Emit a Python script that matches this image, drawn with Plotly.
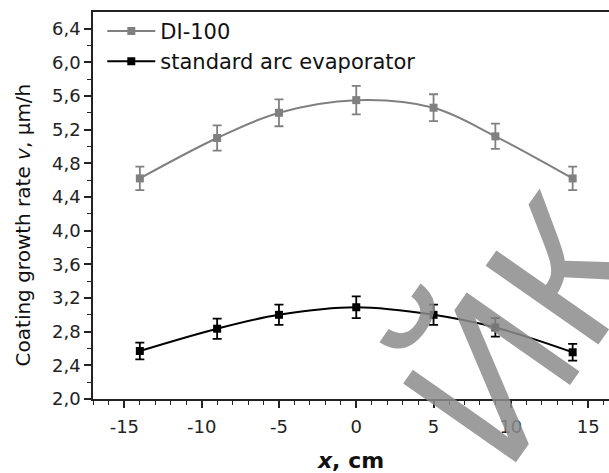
import plotly.graph_objects as go

x_pos = [-14, -9, -5, 0, 5, 9, 14]
di100 = [4.62, 5.10, 5.40, 5.55, 5.46, 5.12, 4.62]
di100_err = [0.14, 0.15, 0.16, 0.17, 0.16, 0.15, 0.14]
std_arc = [2.57, 2.835, 3.00, 3.09, 3.00, 2.85, 2.555]
std_err = [0.10, 0.12, 0.12, 0.13, 0.12, 0.11, 0.10]

x_ticks = [-15, -10, -5, 0, 5, 10, 15]
y_ticks = [2.0, 2.4, 2.8, 3.2, 3.6, 4.0, 4.4, 4.8, 5.2, 5.6, 6.0, 6.4]

GRAY = "#808080"
BLACK = "#000000"
FONT = "DejaVu Sans, Liberation Sans, Arial, sans-serif"

fig = go.Figure()
fig.add_trace(go.Scatter(
    x=x_pos, y=di100, name="DI-100", mode="lines+markers",
    line=dict(color=GRAY, width=2, shape="spline", smoothing=1.0),
    marker=dict(symbol="square", size=8, color=GRAY),
    error_y=dict(type="data", array=di100_err, color=GRAY, thickness=1.8, width=4.5),
))
fig.add_trace(go.Scatter(
    x=x_pos, y=std_arc, name="standard arc evaporator", mode="lines+markers",
    line=dict(color=BLACK, width=2, shape="spline", smoothing=1.0),
    marker=dict(symbol="square", size=8, color=BLACK),
    error_y=dict(type="data", array=std_err, color=BLACK, thickness=1.8, width=4.5),
))

fig.update_layout(
    width=609, height=473,
    margin=dict(l=92.5, r=0, t=12, b=74),
    paper_bgcolor="white", plot_bgcolor="white",
    font=dict(family=FONT, color="#222222", size=17),
    showlegend=True,
    legend=dict(
        x=0.018, y=1.003, xanchor="left", yanchor="top",
        font=dict(size=21, color="#111111"),
        bgcolor="rgba(0,0,0,0)", itemwidth=48,
    ),
    xaxis=dict(
        range=[-17.03, 16.35], tickvals=x_ticks, ticktext=[str(v) for v in x_ticks],
        ticks="outside", ticklen=7, tickwidth=1.5, tickcolor="#222",
        showline=True, linecolor="#222", linewidth=1.5, mirror=True,
        showgrid=False, zeroline=False,
        minor=dict(dtick=1, tick0=0, ticks="outside", ticklen=4, tickwidth=1.2, tickcolor="#222"),
        tickfont=dict(size=18), ticklabelstandoff=4,
        title=dict(text="<b><i>x</i>, cm</b>", font=dict(size=22, color="#111"), standoff=18),
    ),
    yaxis=dict(
        range=[2.0, 6.597], tickvals=y_ticks, ticktext=[f"{v:.1f}".replace(".", ",") for v in y_ticks],
        ticks="outside", ticklen=7, tickwidth=1.5, tickcolor="#222",
        showline=True, linecolor="#222", linewidth=1.5, mirror=False,
        showgrid=False, zeroline=False,
        minor=dict(dtick=0.2, tick0=2.0, ticks="outside", ticklen=4, tickwidth=1.2, tickcolor="#222"),
        tickfont=dict(size=18),
    ),
)

# y-axis title placed explicitly
fig.add_annotation(
    text="Coating growth rate <i>v</i>, μm/h", xref="paper", yref="paper",
    x=-0.1365, y=0.45, xanchor="center", yanchor="middle", textangle=-90,
    showarrow=False, font=dict(size=20, color="#111", family=FONT),
)

# watermark
fig.add_annotation(
    text="ЙК", xref="paper", yref="paper", x=0.835, y=0.18,
    xanchor="center", yanchor="middle",
    showarrow=False, textangle=-55,
    font=dict(size=200, color="rgba(140,140,140,0.85)", family="Liberation Sans, Arial, sans-serif"),
)

fig.write_html("out.html")
